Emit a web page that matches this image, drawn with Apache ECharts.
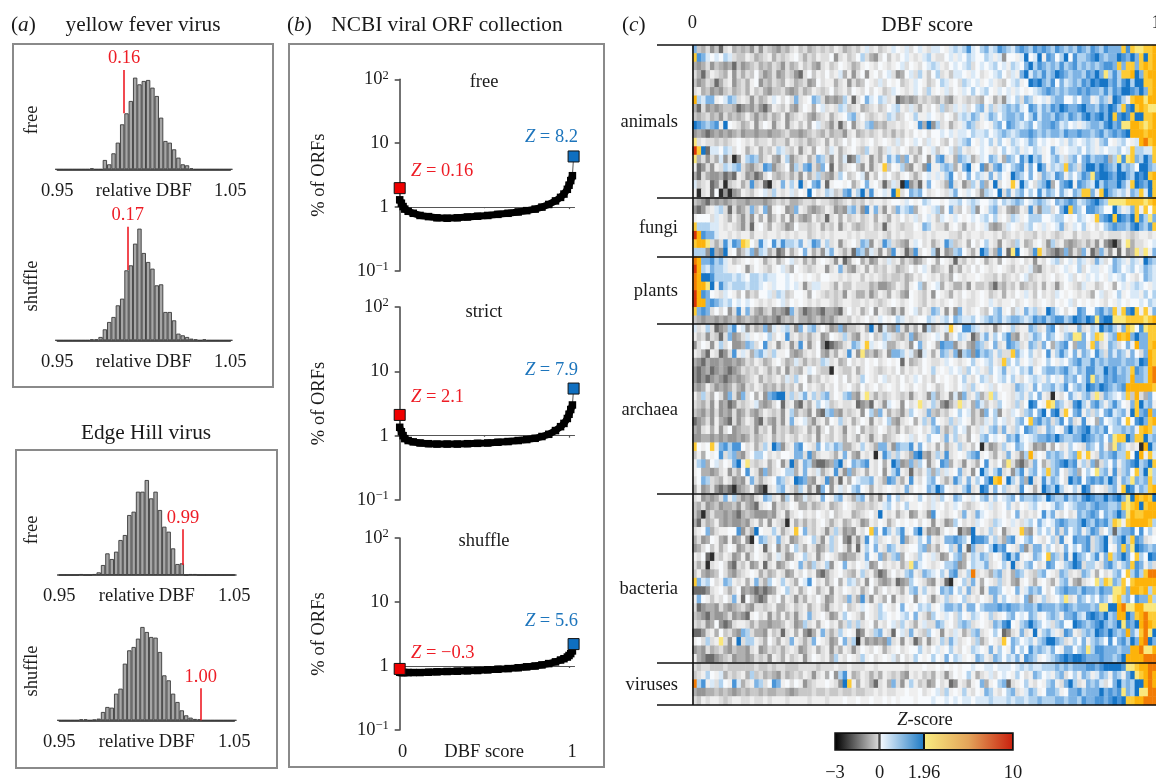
<!DOCTYPE html>
<html><head><meta charset="utf-8"><style>html,body{margin:0;background:#fff;overflow:hidden}#c{width:1156px;height:782px;filter:blur(0.35px)}</style>
<script src="https://cdn.jsdelivr.net/npm/echarts@6/dist/echarts.min.js"></script></head>
<body><div id="c"></div><script>
// ---------- panel (a): histogram counts, 40 bins of 0.0025 from 0.95 to 1.05 ----------
const yfFree=[0,0,0,0,0,0,0,0,3,0,0,28,15,48,80,135,168,205,275,255,265,268,245,220,155,85,80,60,35,15,12,3,0,0,0,0,0,0,0,0,0];
const yfShuffle=[0,0,0,0,0,0,0,0,3,3,10,33,55,70,105,125,210,225,290,335,262,235,215,165,168,85,85,60,20,15,10,5,3,0,3,0,0,0,0,0,0];
const ehFree=[0,0,0,0,0,3,0,0,3,8,30,65,48,70,105,120,180,190,250,250,285,230,250,195,145,130,80,33,35,0,3,3,0,0,0,0,0,0,0,0,0];
const ehShuffle=[0,0,0,0,0,3,3,0,2,5,25,40,38,80,95,170,210,220,245,280,265,250,248,205,135,120,80,55,30,15,8,4,3,0,0,0,0,0,0,0,0];
const histMarkers=[0.9886,0.9907,1.0207,1.0308];
const histMarkerLabels=['0.16','0.17','0.99','1.00'];
const histMarkerSpans=[[168,298],[211,341],[30,137],[0,96]];

// ---------- panel (b): percent of ORFs by DBF score ----------
const curveX=[0,.01,.02,.03,.05,.08,.12,.17,.22,.28,.34,.40,.46,.52,.58,.64,.70,.75,.80,.84,.88,.92,.95,.97,.99,1.0,1.01,1.02];
const orfFree=[1.30,1.15,1.02,.93,.86,.80,.74,.71,.68,.67,.68,.70,.72,.74,.77,.80,.84,.88,.93,1.0,1.10,1.25,1.42,1.6,1.9,2.2,2.6,3.1];
const orfStrict=[1.35,1.15,1.0,.9,.84,.80,.77,.75,.74,.74,.74,.75,.76,.77,.79,.81,.84,.87,.91,.97,1.05,1.2,1.38,1.55,1.85,2.15,2.55,3.0];
const orfShuffle=[.80,.79,.79,.79,.79,.79,.79,.80,.81,.82,.83,.84,.85,.87,.89,.91,.94,.97,1.0,1.04,1.09,1.16,1.24,1.3,1.38,1.46,1.56,1.72];
const endLow=[1.98,2.1,0.9];
const endHigh=[6.2,5.4,2.2];
const panelNames=['free','strict','shuffle'];
const zLow=['0.16','2.1','−0.3'];
const zHigh=['8.2','7.9','5.6'];

// ---------- panel (c): Z-score cells, one letter per cell ----------
const levelCodes='abcdefghijklmnopqr';
const levelValues=[-2.8,-2.2,-1.6,-1.2,-.8,-.4,-.1,.15,.5,.9,1.3,1.6,1.9,2.3,3.5,5,7,9];
const levelColors=['#2e2e2e','#6c6c6c','#969696','#b0b0b0','#c8c8c8','#dedede','#efefef','#f7fafd','#d9e9f7','#b0d2ef','#7db3e4','#4a95d8','#1675c6','#fae77c','#fdcb35','#fdb30a','#f27c05','#d8340a'];
const animals=[
"kedfc ebfgd edecf cfedc edfge fdefe fegfd efegi fgefg ihgif higfi ihgij ijlih jkijl kjikl kjlkl kjlkj kjlkj lkjlk kkolo nnoop",
"olkih ihjif eegfd efgdf efghf dfegf fhcfg efhjf dcfhe gfhig fgijg ffhig ihjih hjigi chhgi mhimg lkhjm hljjk lmkjk kmlkm komop",
"dcdfc edcdb ecdef dedfe cfdeg efdcf gefhg fdegh gfhgf ghifh gfhij igfhi hijfh ihijh igjih kmjlk jkjlj kljkj kjkll kokoo kopop",
"fdbeg fedgc fdfeh ecdfc dfecb fhegf hfgid gcfhc ghfhi fcdhi fjgeh jfgei ihgih fghij hfigk mikjl jkmlk jkkjl kmknj ljoop mkopp",
"ecdfe bdfgc efdgh cedfe dgfde fcdhf ggdfg cfdeh gfifh ghefg ihgef hjigh fjihi ghigf ehijg hmlmk jlhki jkjlk mlmmk ljlmj mmoop",
"fgdec dcefd efdge fdcee fdcdf degfe fhefg ehgfh fhgef ihgfg ihfjg hgifh gihjh ijhgi higih ghijk lkjkj kklkl kkjlj lkmml kmkop",
"pjikk ghikj fgfcf degih fhfkf ghkjf cdcdj gbfhk ihjif gbcdc dfefe dfdcf gfefe dhgdf cihjf kjghi gjkkh hjhkk gikjf mljgo ppnpp",
"dbfcd cdeed bcdce cbdgf egdcf hgdhi fgfji efgde fgefh ijgfi fdgfh fjefi gifhj kgjfi jkjki hlkik jlkml kklmk kjlkm ljolm oponn",
"edefd ecfde degec edfde gcefg fdcef gdfgh jkfhf efgfj iefhg jggih gfhge ijikj gikjh jkkjk hjlik kjlkj lkjlm klmkm olmlo mmoop",
"mlkjk lgmhg fdegc fhgcf gcfge gdhif ecfbe hcfgj kdedf fgfgh gldmc jfgdf gikjf ghgjk hlkji jkhjk klkij higij kkjlm klnnp ponop",
"cdcbc dcdcd ecddc ddcdd efddc defed fdeec fgdef efgef dfegf hghfh hihig iihji ijhij kjijk klkjk jkkjl kklkk jkljk lklmp ppopp",
"nfgff efefg hgfge ffgef fdgfe fdefg dgefh fhgfg hfghg fifhg ihfig hfehf ijkhg ihjgj hgjih ikjhi hghig jihij igjkh gijhg ipqop",
"rombi ihjif hgdfg dfegj ifegc fgdhg eigdf ghfej gfdfi gfhge fdhgi eghie jgfgh ihgfh jhijg ihjig hkigh iijhj igihi ijhio jjiio",
"ndfcf dicfa cgjkj dfgdc gjcef gdfkj fcgdi bcjfg cfdgk ikdkg dfhcg klfgd kjidf ihkjg dkjhl jmjkg hjkif jkhkl jkkld jnlno kjmko",
"gbcfc gfjij kfdce flkce fhcjf klfdk hbgdf ghecg cfgoe hgjdc gfclg gjkjd gkmgh lcfkl ihjkl gkhmk gjijo kjfkm mkmlk jmjkj hmmkj",
"dbfdc cdbcb gfcdb cfhed efdfc gdfje dcfjh efhic gehfh feghf dfhig igjlh fhkhj igkgj hgmkj hkhfk jilkg jhjlk nlmml kmmkj mlmop",
"iefgb cfaef gdfle fbafg kgjgm fhklg bghhg hdfhk ghfbe ifamc ebgkh gfdlf gcejg kdgmf hgogm jhfjk mdhkl mglkj imjlk kmkio mlkmo",
"gafgb hacac dgfeg hifjg fgifh gmhfg jiefk lgjmf lghig mofhk jkhfg hgfik hgihf cjihm fkgjk hjhli kjhki hkjoo kgomk jijgk joimo"];
const fungi=[
"edcbd cdcde ddcdd dcdef efdde ffegf fedef gefeg fggfg hhgih ghjih hghii jhiji hhijh jijkj hijkj ihkjk lkijk lmkjn nnnoo oonop",
"cbcfg ijfbf cdfke gkcgh gcdkg fdcde gfcdc jkfcl gkfcg ekijk dghgi jdhkf ehfjc hgjkf gdcdg flfcj jfhkm okjhl lkjhh mjgik ogoho",
"ghhhf igfdg ecfcg dgceg dgcfd cdgef bfgdg efgef gdgfd gfhfg ifhig eihgi hghih ijhjg hfjig hjjjh hijjh ghjih goklm omlkm oljnk",
"ojjji igfgf ecfbg hfdgf ecdhf fefgd fegcf gedef gefbf gfeff hgkjg ffdgh fdgfh gidcd fihgf ijhgi ghikf gihjg hfhjk lkkjl mkjlo",
"rplkk iggfg fggeg gfggf gfgfg gefgf gfggg fgfgf ffgfe gfgff ggfgf gggff egfgg fggfg efgfg ffegf gfefg gegff ggfgf ffgfe fggfg",
"oppnf dflil konhf lihli ljjik gilkg jfgcf ghfkj cgflj fedcg ihfgd fglje fgdhf hjgfc gfejg deghf cjfgd cdefd fcgcb acgnd ffghi",
"jjjcm dcmgh ceikc jidfb cgdfh kgdfc ikgfd fbkjc ifcgd lgfbd lfhgj bgcdj khfdg mkfdl gbnmh gelof dcbck cfdkg bdkfc gbgcd nfngk"];
const plants=[
"qpkkl jkige fghgh gdfgd fhifg dfdgh gfcgb dghdf cdgfi fgdfe cdfhg dhgfb fegfh gdfgd hgfgh fgcgf hijfh igjig fkifh kjigj igmkj",
"rpjik jjigg hgcfh gfegh ifdhg fefgg cfgkf dcfgd gefeg fdefh fhigd efgcf dgfhf hgfgh gfegf gidcf gfghi ghjfh iighi kjhij hikji",
"qpmml jjjji jihjj ijiih hihgh ghgfh hggfg fggeg fgfef eefde gfhgf gefdh gfggh gffeg efgfh iefgf ghfgh ifhgi hihgi hijhg fhkji",
"qppnm gljij jjijj ihgih hihig cfiig gfdge egfff deccd egfdg hjdgh idgfd dfcge efdbe dfegd efegd gfcfh gfeig gefhg dhigi jihgi",
"rplkh gfihg ehdfe hhifj iefhh gdhgf efefc gfddf cegfd gfdch gfegc hgfdg fhgfg hgefg dgfhg igehf gfihg hgfgf dhifg hjghi igjhj",
"rppkl kjijh ihihg fgfgh ifhgh gfgfg gfefg gffgf gfefg hgfgh gfegf gfghg fgffg hgigf gghfg hgfgh gfhgh ifhgh ghgfh gihgh hihji",
"oklkf hfhcf lgkfd cefcd cbkfd bcdcb ddcbf hfgdf hcgfe cfcgh iegfk jgcgc kgfgh fehjk gheig kijfg mkihf hglkh hkljk oiolm ogogk",
"edcdd cdcde cdedc dcdcb dedfd dcdec dceff egfgh fgihg hjigf ghhji gijhk jiijh ijkjk ijkkj ijlkl jkllj kmlkm lnlmm nnnoo oonop"];
const archaea=[
"ifgjf bcdjl hicfd ekcig ijfck gjkfh fcdkc eefgd mfbid ckfcf dgbjd fgiog hllji gfgcf hgjfg gkjfg klhfi ggkfg jimkl jgkon hlnoo",
"gefcf ebfkc dfigh ghjfh glfge fdfgc dhgfj fdcgf hefji fedfk cefgh igcfh jigbd ikgjh jldcg fikjh kjhgj knnkh jongj kpopk mkkoo",
"cfhgc gjfhc cdkjf hlfgc fgcfl gcfhc abcdf gkjgo ighid dfgfc hkfhg dlkkc fgdck jfhkf glkjf gkjfk hdjkl hdkkg okfgk jfhkg pkkop",
"gfdbg fbcfl gigdj kifjg ghdcd fgfhd cfdgf lgcnd ecegc kkjgi dbigd gkjfk bjkcl jkjgj ffoki hjgfh lgjlj hkgkj hljfk ikjgk hfkpo",
"dcbdc cdccd cdfeg fdegh fdeif dfefj ifgde hfgfh ghfgh ghbgd efhgf fgihg fghjg hijgf ojhjg hifgh jhgih jkljj ljkjk kkjkk jmlpo",
"cbcdb cdcbc dfefe gfdfd gcfed gihfe eagfe egdfh gfefg fhegf gfhgj ghgih ifjhi gfjhi kgihj ikghj kkjkl jikjl ljjmk ljkjo lkjpq",
"cbcbc dcbcd cdefg dfefg eifjg hdfeg fghfh egfjh gfhif gfhfg ihfge hghgf hjgfh jifhi jhjgf hijig jhigk jkhjl nkjlk lkkjp kkjpq",
"dcdge cdcdf dcfeg fdedf dfegd hfgfe gfhfg hfehf ghfgh gfhgf hgfhg efhgf hifjg hgifh ggfkj igkhj jkijl hjkjm lkmlk jklpp ppppo",
"gejfd hfckf ckfhd gcklm mfjfi kgjfj kfhgj kdcgn fdfef gfefc fgfcj dfgci ckfgj dfnjg hgfij gjhkg fagfh kigjk fnfkj ihjoe pfdkh",
"fedfc gcdbc fefgi dcdfh bfgcb fdgjh iefgf fgbcd bgfci hgchf gnfgj fcbdf nfgdk iegfj hgfjf hmlhg onkjg flmjg kljgj ljhgk omjkg",
"edcec fcdcf cdfdc egfef cgjdf ecgcb jkdcf efgch jdkgd fecfj hgfke dfegh jhidf ckhjc gfihf jkhkm hlmfo hklgj fjhkl ijkgm oklpk",
"bcdfc gdcbf cegfc bfdcf cgkgh iecfg dhgjf gdfhg cgfhj dcfgh dgjfk hgfjf ihgdf eigjh ifgjk hoklj kfjlh kfglg hdkhi jkhoh lmkop",
"dcfgd gcfhc deefc fegcf efdef gdfcf hegfc gfhdf efhge fdgef ghfgj kfdfj hidgf igjkf kgfjh lkjfg kjhgk mjklm jkjlh jjkjk gopoj",
"ccddc dcdcc dcdfd efgdf egfeg fegcg fegfd gfdgf cfgde fghgi fhgjh hfkgj fgdhg jkhih gkjli hijkk lkmkj jkkml kjkhk noomk oomjk",
"ohgho gkljl lhfgd fjgmk cfgkl hgfkh jikjd dfgjg fdkkf ckjjl gkhfg dgdfg jfgeh afcdf jghkj hfcdc gdhfg jhgfk jhkgd nkjgf gapmj",
"egdhg hlfjk dcfhj jhfgf hhgkk fldfg gfdgk gdcgf gaglj fjgfd lmdcf jflfg hgjkl ghfdg fkgfc jpfhg kjkjg jkogo gfkjk ljjoh mpgoi",
"gjkdh ifhgk mgnfe fgdfh cfmdg kjcbb cdkmf hkjkl gfhdg mkcdk ejhcf hlkdg fcgfd hlgfh dnfcb dfkhd fjklm klgjf kcfjh kgjkl mjkmo",
"ghddc dfgcf dhlgf ckdfg hjjdg kgfid fglfc kdfgd gfhcg jlgfb fegjd jfigh kfgch mjgjl fgcjl gjkhj ojkhf jkdhj hnjkg lfjkh ojmnj",
"fhkjf edgfc dcgkf dfghk jfgml kdcgf lcfbg dhijj kgfdl kfdgl gfhjk hfdfl jgkgj hkmop gmjgk dmfgl ikjhf mklhk lkljm kgkjn kjkoj",
"dgcdf cbcba cdegc bafgj kgfdj gcfbk hcgif hjkhg dgfgh gfgkf hghkj mkhgf gjlfg mlgkh jfgfl hgdgm kjmjg hjgml fhgfj kgoml ikjop"];
const bacteria=[
"fgcdc dfkgj ecdcf gkjfg cjgcd iefgk hgjkg fdjkg dfcgk hjfgh gjhfi fjhgk jhgih jkgjh ijkhk jjkji mkjjl jkjlm lkkmk lmknm popom",
"edfcd ecdde cfdcb fghcf efhgd dfdef gdefh gfeef efgij hfhjg ghgfi ghfgi hfefg hgifg hjgfh gijhg hikjh ijkkj klkkj jkono pmopp",
"ecadf ddcdc bdedc ccdcf gcfgh fgfhg fhefg gdefg hfmgf gdfgc dgfcl hgfgh fkgfk ihgfg hfhkg fgfhl ikgfh fgkjk lkhkj kmknp ooppp",
"dbfde gdcdc cdcfg dgcgf eagdf dfegh fdfgd egfcd gfhgd fhghg hfhgc gfcdj hfgfi hgfji hgigf ijhki hiklk jjkmk jlklj ongop pppoj",
"fghkd fgghh lcfdm hggjg dfgoh kfegf cfjfc dcgfh okhlj gjlgh kmfcd cfhgh bdcmg fgjfh cfggo dcgjh jgkfk hjkgj lkfhj bjkkl hlhjg",
"dfcdh gdcgc dgcah kjfgk fgcdf ghjfc gjfhc bfcfl hjfgh fgldf gjhkg fgkkl kjhml lkgjf dklgh jkhgf hjflg hlkkl fjkmg jkmjo lkfgh",
"cdfhe gdfhg cdfeh gbfhc fdhjf dgfcd fjfhf cgbgj hkgfk jgfgh hjkdf dghjf lgbkf fhjmk lhgfk cfkkg jhfgk hjhkl fjkmh gkokn mlkjk",
"gfhba fegfc dgcfh gfdgi fcdgh jfgcf hgfdc ddfgk hgkdf jkdhg fjhgi fcdhj kdgji kjfhg kmjlg hgkjh okjfl gmkjh jlgko jkmkh ojhml",
"fdfaf ghfcb fegcd gbfgc dfhgk fdjfg jcghk gfhgi cdhfg fgdfn kihgf ghjjk cdhji ikfgh jgmfg jkhfg lkhgj kmlfj jgfkl jgjko lkgjf",
"egdcd ehfdc efghg dfdeg fcdgf hfgcb dfghf edgjf gdbcf hfgjk gfkji hjgkl fgjqf gfdjk fgdkj gfejk hgfkj fgfkj gdhfg jkhoj ljoqq",
"okijh fgkjg fgdgk fdjhg jgfdh ilhfg dfhdg jiegc hfdcd fbcdj hgfdc gfbag hjfkg dhgfj fgdcg hfdgh fdgjk gdcfg hnjon kjoho ppppp",
"bbbcf ghfdf hcdcb cbcdg hjfgd fhgdf gcgfh gfgdf hdfhf gfdgj kgjgf hkjkh jgkfg cgkkj hghkg ikjkh fhjkl kkjlk kjlkk nnokp popjo",
"gkhge gfhfk gbhec bcgfh dgfcf dgfhf cdgfe kfdlf cgfdh cgfgh cghfc fgjfg hjfgf hgfkg jhgfh kcfgj fghjn fgkjh jhkjg nojkh lkkoj",
"fbcdd cfdcd efdcf fefgd dfgef gdfge cfgfh efgih gfjhg fhkhg hjijg hikkj kgkkh jkkkl klkkj kkjlk kkjkl kjkkk jknnm mpqnn ppnnn",
"edcbd ccdfc dcbgh fgcfd gdfcf gkfgh fcdgj hgfdh gfjih ghijh kgfdj hgihf jhgji hgjfg hjkhi hkjgh jkjgk kljil mlkmj kppmk opqoo",
"fefcd hcbcf ggfdf ddcdd egfcd jfgdg hfgdf jfjfg hdgfh ifjgf dgiff kjghf jkjfg hgfkj lmhgj kmkjh ifjkh hmlkj klmkj kmnlk mpqpo",
"bbcfg dhefd ckjfd dcgef bfgdg cbdgk fdfjg hgbcg fjkgf bhifk gfejh gcgfi gdfjk fghjh bcfgk fgmgj kigfl kgfjk jmlkm kjkpk ioqnm",
"ghfjf gnfcg mfjjg fdhfd gfkgf dfkhg fcdhk fjafc dcdck fgcgf bdgcf gjfki fghfj dfhgf ohkjh ijgjk mmkjf gjhkg jkjhl hkljm kpqmk",
"cdcfd efdce ddcfg cdfef dfgfc dfgdf gcfdg fcfhg fhgdf ghfgh hjgfh ighjg fhgji hgkgj hgkhj hljkj ikhgk khjkn jllkk kjkkp pqnnp",
"gdcbb cdefc ddcdf efcgf dgefg cfhgf gdjgf hgfjg hfghg iehfg jhghj hgkhj ighgk jgfkj hjikg lkjgh ijklm lmmlk kklkk jkmpp ppqqq"];
const viruses=[
"feffe eefee eeeef eefef feeef fffef ffgff gfffg gfggg gggfg gghgg hghgh ghhih hiihi iihij ijiij jjkjk jkkkl lklmm mmlnn oppqq",
"efgjh gidfe fgdje fdedc fdefe gfcfg dhcjl gdegf dfdgf efdcg fgefd gfcfh ghjgd fgifh ihgjh fgkjh igjkf hjgkj gikjg kjgkm nopqp",
"qjlgi fjhgl idfgk jfhlk ghfhg cefgg hgfcm ogdgf dbfgd kfcgj gefcd hfgbc gfdgh kdghj kbfgh jgfhg jkgfk mjfgk jkifh kmjkj mmpqp",
"dccdd ededc dedee dedde edcde eefee feefe efeef fgfgf fgghg ghfgh ifjgh gjgfh gkjgf hjkfg ikjgh kkjgh kkljk kkmkl klnkj mnnqq",
"fegfg gfefg gffgf fgfgg gfggg gfggg fgggh gghgg hgghg hghhh ghhhi hhihi hiihi iijii ijijj ijjkj jjkkj kkjlk kllkl mlmoo ppqqq"];
const groupNames=['animals','fungi','plants','archaea','bacteria','viruses'];
const groupBoundaries=[0,18,25,33,53,73,78];
const colorbarSpans=[1,1,2];
const colorbarTicks=[0,1,2,4];
const colorbarLabels=['−3','0','1.96','10'];

// ---------- assembly ----------
const F='"Liberation Serif"', FS=18.5, TS=21.3, INK='#1a1a1a', RED='#ee1c25', BLUE='#1d75bc';
const grid=[],xAxis=[],yAxis=[],series=[];
const addGrid=o=>{grid.push({outerBoundsMode:'none',...o});return grid.length-1;};
function histogram(counts,left,base,width,k){
  const g=addGrid({left,top:base-115,width,height:115});
  xAxis.push({gridIndex:g,type:'value',min:.95,max:1.05,splitLine:{show:false},
    axisLine:{onZero:false,lineStyle:{color:'#222',width:1.5}},axisTick:{show:false},
    axisLabel:{customValues:[.95,1.05],formatter:v=>v.toFixed(2),margin:12,color:INK,fontFamily:F,fontSize:FS},
    name:'relative DBF',nameLocation:'middle',nameGap:12,nameMoveOverlap:false,nameTextStyle:{color:INK,fontFamily:F,fontSize:FS,verticalAlign:'top'}});
  yAxis.push({gridIndex:g,type:'value',min:0,max:345,show:false});
  series.push({type:'bar',xAxisIndex:g,yAxisIndex:g,barWidth:width/40,
    data:counts.map((v,i)=>[.95+.0025*i,v]),
    itemStyle:{color:'#a6a6a6',borderColor:'#3a3a3a',borderWidth:.9},
    markLine:{silent:true,symbol:'none',animation:false,lineStyle:{color:RED,width:1.6,type:'solid'},
      label:{show:true,position:'end',formatter:histMarkerLabels[k],color:RED,fontFamily:F,fontSize:FS,distance:2},
      data:[[{coord:[histMarkers[k],histMarkerSpans[k][0]]},{coord:[histMarkers[k],histMarkerSpans[k][1]]}]]}});
}
histogram(yfFree,57.3,169.3,173,0);
histogram(yfShuffle,57.3,340.3,173,1);
histogram(ehFree,59.3,575,175,2);
histogram(ehShuffle,59.3,720.3,175,3);

function logPanel(vals,top,height,k,showX){
  const g=addGrid({left:399.7,top,width:177.8,height});
  xAxis.push({gridIndex:g,type:'value',min:0,max:1.05,splitLine:{show:false},axisLine:{show:false},axisTick:{show:false},
    axisLabel:{show:showX,customValues:[.018,1.018],margin:13,color:INK,fontFamily:F,fontSize:FS,formatter:v=>v<.5?'0':'1'},
    name:showX?'DBF score':'',nameLocation:'middle',nameGap:13,nameMoveOverlap:false,
    nameTextStyle:{color:INK,fontFamily:F,fontSize:FS,verticalAlign:'top',padding:[0,9,0,0]}});
  yAxis.push({gridIndex:g,type:'log',logBase:10,min:.1,max:100,splitLine:{show:false},minorTick:{show:false},
    axisLine:{show:true,lineStyle:{color:'#444',width:1.5}},axisTick:{show:true,length:5,lineStyle:{color:'#444',width:1.5}},
    axisLabel:{margin:11,color:INK,fontFamily:F,fontSize:FS,
      formatter:v=>v>50?'10{s|2}':v>5?'10':v>.5?'1':'10{s|−1}',
      rich:{s:{fontSize:12.5,fontFamily:F,color:INK,padding:[0,0,8,0]}}},
    name:'% of ORFs',nameLocation:'middle',nameGap:71,nameRotate:90,nameMoveOverlap:false,nameTextStyle:{color:INK,fontFamily:F,fontSize:FS}});
  series.push({type:'line',xAxisIndex:g,yAxisIndex:g,symbol:'none',lineStyle:{opacity:0},data:[[0,1]],z:1,
    markLine:{silent:true,symbol:'none',animation:false,z:1,label:{show:false},lineStyle:{color:'#555',width:1.2,type:'solid'},
      data:[[{coord:[0,1]},{coord:[1.035,1]}],[{coord:[.5,1]},{coord:[.5,.96]}],[{coord:[1,1]},{coord:[1,.93]}]]}});
  series.push({type:'line',xAxisIndex:g,yAxisIndex:g,symbol:'none',z:2,lineStyle:{color:'#555',width:1},
    data:[[0,endLow[k]],[0,vals[0]]]});
  series.push({type:'line',xAxisIndex:g,yAxisIndex:g,symbol:'none',z:2,lineStyle:{color:'#555',width:1},
    data:[[1.02,vals[vals.length-1]],[1.027,endHigh[k]]]});
  series.push({type:'line',xAxisIndex:g,yAxisIndex:g,z:3,symbol:'rect',symbolSize:7.5,showSymbol:true,clip:false,
    itemStyle:{color:'#000'},lineStyle:{color:'#000',width:7},data:vals.map((v,i)=>[curveX[i],v])});
  series.push({type:'scatter',xAxisIndex:g,yAxisIndex:g,z:4,symbol:'rect',symbolSize:11,clip:false,
    data:[{value:[0,endLow[k]],itemStyle:{color:'#f00000',opacity:1}},{value:[1.027,endHigh[k]],itemStyle:{color:'#0f6fc0',opacity:1}}],
    itemStyle:{borderColor:'#111',borderWidth:1,opacity:1}});
}
logPanel(orfFree,79.3,191.7,0,false);
logPanel(orfStrict,307,193,1,false);
logPanel(orfShuffle,538,192,2,true);

// heatmap
const rows=[...animals,...fungi,...plants,...archaea,...bacteria,...viruses].map(r=>r.replace(/ /g,''));
const cols=Array.from(rows[0],(_,i)=>i);
const cells=[];
rows.forEach((r,y)=>{for(let x=0;x<r.length;x++)cells.push([x,y,levelValues[levelCodes.indexOf(r[x])]]);});
const hg=addGrid({left:692.5,top:45,width:464.5,height:660});
xAxis.push({gridIndex:hg,type:'category',data:cols,show:false});
yAxis.push({gridIndex:hg,type:'category',data:rows.map((_,i)=>i),inverse:true,show:false});
const heatIndex=series.length;
series.push({type:'heatmap',xAxisIndex:hg,yAxisIndex:hg,data:cells,progressive:0,silent:true,z:2});

// overlay: group separators and the 0–1 axis
const og=addGrid({left:657,top:45,width:499,height:660});
xAxis.push({gridIndex:og,type:'value',position:'top',min:-35.5/464,max:1,splitLine:{show:false},axisLine:{show:false},axisTick:{show:false},
  axisLabel:{customValues:[0,1],margin:12,color:INK,fontFamily:F,fontSize:FS,formatter:v=>String(v),showMaxLabel:true}});
yAxis.push({gridIndex:og,type:'value',inverse:true,min:0,max:78,show:false});
series.push({type:'line',xAxisIndex:og,yAxisIndex:og,symbol:'none',lineStyle:{opacity:0},data:[[0,0]],z:10,
  markLine:{silent:true,symbol:'none',animation:false,z:10,label:{show:false},lineStyle:{color:'#111',width:1.6,type:'solid'},
    data:[...groupBoundaries.map(b=>({yAxis:b})),[{coord:[0,0]},{coord:[0,78]}]]}});

// colour bar
const cg=addGrid({left:835,top:733,width:178,height:17,show:true,borderColor:'#111',borderWidth:1.5,z:5});
xAxis.push({gridIndex:cg,type:'value',min:0,max:4,splitLine:{show:false},axisLine:{show:false},
  axisTick:{customValues:colorbarTicks,length:9,lineStyle:{color:'#111',width:1.5}},
  axisLabel:{customValues:colorbarTicks,margin:14,color:INK,fontFamily:F,fontSize:FS,
    formatter:v=>colorbarLabels[colorbarTicks.indexOf(v)]}});
yAxis.push({gridIndex:cg,type:'category',data:['Z'],show:false});
const G=echarts.graphic.LinearGradient;
const colorbarFills=[
  new G(0,0,1,0,[{offset:0,color:'#000'},{offset:1,color:'#dedede'}]),
  new G(0,0,1,0,[{offset:0,color:'#fafcff'},{offset:1,color:'#1d7ac4'}]),
  new G(0,0,1,0,[{offset:0,color:'#f9ec80'},{offset:.5,color:'#e3a45a'},{offset:1,color:'#c9200e'}])];
colorbarSpans.forEach((s,i)=>series.push({type:'bar',xAxisIndex:cg,yAxisIndex:cg,stack:'cb',barWidth:'100%',data:[s],
  silent:true,itemStyle:{color:colorbarFills[i],borderColor:'#111',borderWidth:1}}));

// text and frames
function txt(x,y,text,o={}){
  return {type:'text',x,y,rotation:o.rot||0,z:20,silent:true,style:{text,fill:o.fill||INK,fontFamily:F,fontSize:o.size||FS,
    align:o.align||'center',verticalAlign:'middle',rich:o.rich}};
}
const box=(x,y,w,h)=>({type:'rect',shape:{x,y,width:w,height:h},z:0,silent:true,style:{fill:null,stroke:'#8a8a8a',lineWidth:2}});
const ital=c=>({i:{fontStyle:'italic',fontFamily:F,fontSize:FS,fill:c,color:c}});
const italT={i:{fontStyle:'italic',fontFamily:F,fontSize:TS,color:INK}};
const graphicEls=[
  box(13,44,260,343),box(16,450,261,318),box(289,44,315,723),
  txt(11,25,'({i|a})',{size:TS,align:'left',rich:italT}),
  txt(143,25,'yellow fever virus',{size:TS}),
  txt(146,433,'Edge Hill virus',{size:TS}),
  txt(287,25,'({i|b})',{size:TS,align:'left',rich:italT}),
  txt(447,25,'NCBI viral ORF collection',{size:TS}),
  txt(622,25,'({i|c})',{size:TS,align:'left',rich:italT}),
  txt(927,25,'DBF score',{size:TS}),
  txt(32,120,'free',{rot:Math.PI/2}),txt(32,286,'shuffle',{rot:Math.PI/2}),
  txt(32,530,'free',{rot:Math.PI/2}),txt(32,671,'shuffle',{rot:Math.PI/2}),
  txt(484,82,panelNames[0]),txt(484,312,panelNames[1]),txt(484,541,panelNames[2]),
  txt(925,720,'{i|Z}-score',{rich:ital(INK)}),
];
[171,397,653].forEach((y,i)=>graphicEls.push(txt(411,y,'{i|Z} = '+zLow[i],{fill:RED,align:'left',rich:ital(RED)})));
[137,370,621].forEach((y,i)=>graphicEls.push(txt(578,y,'{i|Z} = '+zHigh[i],{fill:BLUE,align:'right',rich:ital(BLUE)})));
[122,228,291,410,589,685].forEach((y,i)=>graphicEls.push(txt(678,y,groupNames[i],{align:'right'})));

const chart=echarts.init(document.getElementById('c'),null,{renderer:'canvas'});
chart.setOption({animation:false,backgroundColor:'#fff',grid,xAxis,yAxis,series,
  visualMap:{type:'piecewise',show:false,seriesIndex:heatIndex,dimension:2,
    pieces:levelValues.map((v,i)=>({value:v,color:levelColors[i]}))},
  graphic:{elements:graphicEls}});
</script></body></html>
